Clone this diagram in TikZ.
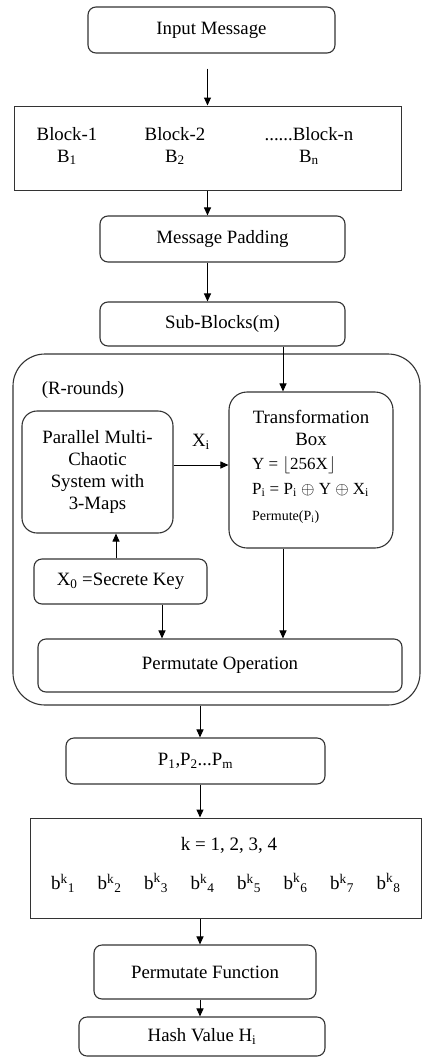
\documentclass[tikz,border=0pt]{standalone}
\usepackage{fontspec}
\setmainfont{Liberation Serif}
\usetikzlibrary{positioning,arrows.meta,calc}

\begin{document}
\begin{tikzpicture}[x=1pt, y=-1pt,
  font=\fontsize{18.8}{22}\selectfont,
  >={Triangle[length=8pt,width=7pt]},
  box/.style={draw=black!80, line width=1.1pt, rounded corners=8pt, inner sep=0pt, align=center},
  sq/.style={draw=black!80, line width=1pt, inner sep=0pt},
  lbl/.style={inner sep=0pt, align=center},
  arr/.style={->, line width=1pt}
]
\useasboundingbox (0,0) rectangle (422,1057);
\node[box, minimum width=247pt, minimum height=46pt] (input) at (211.5,30) {Input Message};
\node[sq, minimum width=387pt, minimum height=84pt] (blocks) at (207.5,148) {};
\node[lbl] (blk1) at (67,146) {Block-1\\B\textsubscript{1}};
\node[lbl] (blk2) at (175,146) {Block-2\\B\textsubscript{2}};
\node[lbl] (blkn) at (309,146) {......Block-n\\B\textsubscript{n}};
\node[box, minimum width=245pt, minimum height=46pt] (pad) at (222.5,239) {Message Padding};
\node[box, minimum width=245pt, minimum height=44pt] (sub) at (222.5,324) {Sub-Blocks(m)};
\node[box, rounded corners=32pt, minimum width=407pt, minimum height=351pt] (rounds) at (216.5,529.5) {};
\node[lbl] (rlabel) at (83,390) {(R-rounds)};
\node[box, rounded corners=15pt, minimum width=151pt, minimum height=122pt] (chaos) at (97.5,472) {Parallel Multi-\\Chaotic\\System with\\3-Maps};
\node[box, rounded corners=18pt, minimum width=164pt, minimum height=156pt] (trans) at (311,470) {};
\node[lbl] (ttitle) at (311,428) {Transformation\\Box};
\node[lbl, anchor=west, font=\fontsize{17}{20}\selectfont] (teq1) at (252,465) {Y = $\lfloor$256X$\rfloor$};
\node[lbl, anchor=west, font=\fontsize{17}{20}\selectfont] (teq2) at (252,490) {P\textsubscript{i} = P\textsubscript{i} $\oplus$ Y $\oplus$ X\textsubscript{i}};
\node[lbl, anchor=west, font=\fontsize{14}{16}\selectfont] (teq3) at (252,517) {Permute(P\textsubscript{i})};
\node[box, minimum width=173pt, minimum height=45pt] (key) at (120.5,581.5) {X\textsubscript{0} =Secrete Key};
\node[box, minimum width=364pt, minimum height=53pt] (permop) at (220,665.5) {Permutate Operation};
\node[box, minimum width=259pt, minimum height=46pt] (pvals) at (195.5,761) {P\textsubscript{1},P\textsubscript{2}...P\textsubscript{m}};
\node[sq, minimum width=391pt, minimum height=100pt] (kbox) at (225.5,868) {};
\node[lbl, font=\fontsize{19}{22}\selectfont] (kval) at (229,845) {k = 1, 2, 3, 4};
\foreach \i in {1,...,8}
  \node[lbl, font=\fontsize{19}{22}\selectfont] (bit\i) at ({16.5+46.5*\i},883) {b\textsuperscript{k}\textsubscript{\i}};
\node[box, minimum width=222pt, minimum height=54pt] (pfun) at (205,972) {Permutate Function};
\node[box, minimum width=246pt, minimum height=39pt] (hash) at (202,1036.5) {Hash Value H\textsubscript{i}};

\coordinate (tin) at ([xshift=-28pt]trans.north);
\coordinate (tout) at ([xshift=-28pt]trans.south);
\coordinate (xo) at ([yshift=7pt]chaos.east);
\coordinate (kup) at ([xshift=-4.5pt]key.north);
\coordinate (kdn) at ([xshift=41.5pt]key.south);
\coordinate (pin) at ([xshift=4.5pt]pvals.north);
\coordinate (pout) at ([xshift=4.5pt]pvals.south);

\draw[arr, shorten <=15pt] (blocks.north |- input.south) -- (blocks.north);
\draw[arr] (blocks.south) -- (blocks.south |- pad.north);
\draw[arr] (blocks.south |- pad.south) -- (blocks.south |- sub.north);
\draw[arr] (tin |- sub.south) -- (tin);
\draw[arr] (xo) -- (xo -| trans.west) node[midway, above=12pt] (xlbl) {X\textsubscript{i}};
\draw[arr] (kup) -- (kup |- chaos.south);
\draw[arr] (kdn) -- (kdn |- permop.north);
\draw[arr] (tout) -- (tout |- permop.north);
\draw[arr] (pin |- rounds.south) -- (pin);
\draw[arr] (pout) -- (pout |- kbox.north);
\draw[arr] (pin |- kbox.south) -- (pin |- pfun.north);
\draw[arr] (pin |- pfun.south) -- (pin |- hash.north);
\end{tikzpicture}
\end{document}
